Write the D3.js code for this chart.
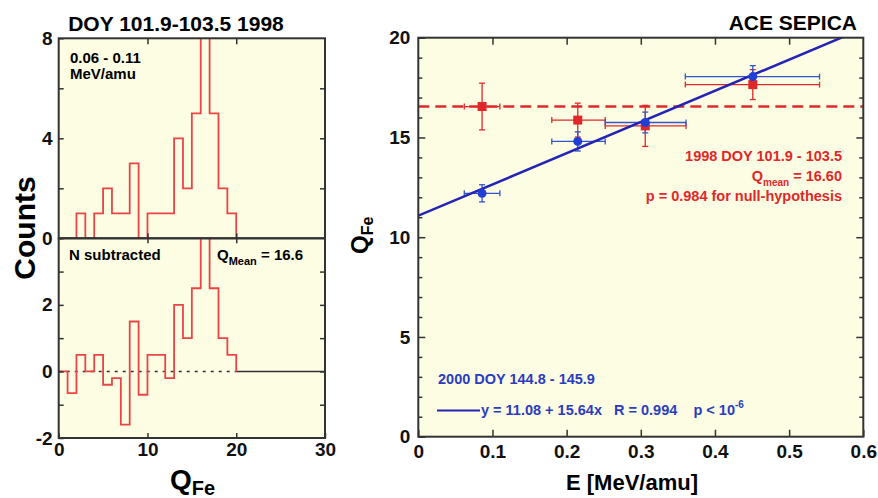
<!DOCTYPE html>
<html>
<head>
<meta charset="utf-8">
<script src="https://cdn.jsdelivr.net/npm/d3@7"></script>
<style>
  body { margin: 0; background: #fff; }
  svg text { font-family: "Liberation Sans", Arial, sans-serif; font-weight: bold; }
</style>
</head>
<body>
<div id="chart"></div>
<script>
// histogram bins (lower edge of each 1-unit bin in Q_Fe)
const binEdges = [0,1,2,3,4,5,6,7,8,9,10,11,12,13,14,15,16,17,18,19];
const countsTop = [0,0,1,0,1,2,1,1,3,0,1,1,1,4,2,5,10,5,2,1];
const countsSub = [0,-0.65,0.5,0,0.5,-0.4,-0.2,-1.6,1.5,-0.7,0.5,0.5,-0.2,2,1,2.5,6,2.5,1,0.5];
const histEnd = 20;

// Q_Fe vs energy
const energy = [0.086, 0.215, 0.306, 0.451];
const eLow   = [0.062, 0.180, 0.252, 0.360];
const eHigh  = [0.110, 0.252, 0.361, 0.541];
const q2000    = [12.2, 14.8, 15.75, 18.05];
const q2000Err = [0.43, 0.48, 0.52, 0.55];
const q1998    = [16.55, 15.87, 15.58, 17.65];
const q1998Err = [1.17, 0.85, 1.03, 0.75];
const fitIntercept = 11.08, fitSlope = 15.64;
const qMean = 16.55;

const W = 878, H = 498;
const BG = "#fdfde3", FRAME = "#333", RED = "#e0282a", HRED = "#e84545", BLUE = "#2a3cc0", LINEBLUE = "#2323b5";

const svg = d3.select("#chart").append("svg")
  .attr("width", W).attr("height", H);

// ---------- left panels ----------
const xh = d3.scaleLinear().domain([0, 30]).range([58.7, 325]);
const yTop = d3.scaleLinear().domain([0, 8]).range([238.3, 38.3]);
const yBot = d3.scaleLinear().domain([-2, 4]).range([438, 238.3]);

function panelFrame(g, x0, x1, y0, y1, id) {
  g.append("rect").attr("x", x0).attr("y", y0).attr("width", x1 - x0).attr("height", y1 - y0)
    .attr("fill", BG);
  svg.append("clipPath").attr("id", id).append("rect")
    .attr("x", x0).attr("y", y0).attr("width", x1 - x0).attr("height", y1 - y0);
}

const gL = svg.append("g");
panelFrame(gL, 58.7, 325, 38.3, 238.3, "clipTop");
panelFrame(gL, 58.7, 325, 238.3, 438, "clipBot");

// step paths
function stepData(vals) {
  const pts = binEdges.map((e, i) => [e, vals[i]]);
  pts.push([histEnd, 0]);
  return pts;
}
const stepTop = d3.line().x(d => xh(d[0])).y(d => yTop(d[1])).curve(d3.curveStepAfter);
const stepBot = d3.line().x(d => xh(d[0])).y(d => yBot(d[1])).curve(d3.curveStepAfter);

// zero line in bottom panel
gL.append("line").attr("x1", xh(0)).attr("x2", xh(histEnd)).attr("y1", yBot(0)).attr("y2", yBot(0))
  .attr("stroke", "#333").attr("stroke-width", 1.5).attr("stroke-dasharray", "3,5");
gL.append("line").attr("x1", xh(histEnd)).attr("x2", xh(30)).attr("y1", yBot(0)).attr("y2", yBot(0))
  .attr("stroke", "#333").attr("stroke-width", 1.5);

gL.append("path").datum(stepData(countsTop)).attr("d", stepTop)
  .attr("clip-path", "url(#clipTop)")
  .attr("fill", "none").attr("stroke", HRED).attr("stroke-width", 1.8);
gL.append("path").datum(stepData(countsSub)).attr("d", stepBot)
  .attr("clip-path", "url(#clipBot)")
  .attr("fill", "none").attr("stroke", HRED).attr("stroke-width", 1.8);

function styleAxis(sel, size) {
  sel.select(".domain").remove();
  sel.selectAll("line").attr("stroke", FRAME).attr("stroke-width", 1.5);
  sel.selectAll("text").attr("font-size", size).attr("fill", "#111");
}

// left y axes
gL.append("g").attr("transform", `translate(${xh(0)},0)`)
  .call(d3.axisLeft(yTop).tickValues([0,2,4,6,8]).tickSize(-5).tickPadding(6)
    .tickFormat(d => d % 4 === 0 ? d : ""))
  .call(s => styleAxis(s, 19));
gL.append("g").attr("transform", `translate(${xh(30)},0)`)
  .call(d3.axisRight(yTop).tickValues([2,4,6]).tickSize(-5).tickFormat(""))
  .call(s => styleAxis(s, 19));
gL.append("g").attr("transform", `translate(${xh(0)},0)`)
  .call(d3.axisLeft(yBot).tickValues([-2,-1,0,1,2,3]).tickSize(-5).tickPadding(6)
    .tickFormat(d => (d === -2 || d === 0 || d === 2) ? d : ""))
  .call(s => styleAxis(s, 19));
gL.append("g").attr("transform", `translate(${xh(30)},0)`)
  .call(d3.axisRight(yBot).tickValues([-1,0,1,2,3]).tickSize(-5).tickFormat(""))
  .call(s => styleAxis(s, 19));
// left x axes
gL.append("g").attr("transform", `translate(0,${yBot(-2)})`)
  .call(d3.axisBottom(xh).tickValues([0,10,20,30]).tickSize(-5).tickPadding(5))
  .call(s => styleAxis(s, 19));
[yTop(8), yTop(0)].forEach((yy, k) => {
  gL.append("g").attr("transform", `translate(0,${yy})`)
    .call((k === 0 ? d3.axisTop(xh) : d3.axisBottom(xh)).tickValues([10,20]).tickSize(k === 0 ? -6 : 5).tickFormat(""))
    .call(s => styleAxis(s, 19));
});
gL.append("g").attr("transform", `translate(0,${yTop(0)})`)
  .call(d3.axisBottom(xh).tickValues([10,20]).tickSize(-5).tickFormat(""))
  .call(s => styleAxis(s, 19));

// frames
[[yTop(8), yTop(0)], [yBot(4), yBot(-2)]].forEach(([a, b]) => {
  gL.append("rect").attr("x", xh(0)).attr("y", a).attr("width", xh(30) - xh(0)).attr("height", b - a)
    .attr("fill", "none").attr("stroke", FRAME).attr("stroke-width", 2);
});

// left texts
gL.append("text").attr("x", 176).attr("y", 31).attr("text-anchor", "middle")
  .attr("font-size", 21).text("DOY 101.9-103.5 1998");
gL.append("text").attr("x", 70).attr("y", 63).attr("font-size", 15).text("0.06 - 0.11");
gL.append("text").attr("x", 70).attr("y", 79).attr("font-size", 15).text("MeV/amu");
gL.append("text").attr("x", 69).attr("y", 260).attr("font-size", 15).text("N subtracted");
const qm = gL.append("text").attr("x", 217).attr("y", 260).attr("font-size", 15);
qm.append("tspan").text("Q");
qm.append("tspan").attr("font-size", 11).attr("dy", 5).text("Mean");
qm.append("tspan").attr("dy", -5).text(" = 16.6");

gL.append("text").attr("transform", "translate(35,228) rotate(-90)").attr("text-anchor", "middle")
  .attr("font-size", 30).text("Counts");
const qx = gL.append("text").attr("x", 170).attr("y", 489).attr("font-size", 28);
qx.append("tspan").text("Q");
qx.append("tspan").attr("font-size", 20).attr("dy", 6).text("Fe");

// ---------- right panel ----------
const xe = d3.scaleLinear().domain([0, 0.6]).range([418.3, 863.3]);
const yq = d3.scaleLinear().domain([0, 20]).range([436.7, 37.7]);
const gR = svg.append("g");
panelFrame(gR, xe(0), xe(0.6), yq(20), yq(0), "clipR");

// null-hypothesis mean line
gR.append("line").attr("clip-path", "url(#clipR)")
  .attr("x1", xe(0)).attr("x2", xe(0.6)).attr("y1", yq(qMean)).attr("y2", yq(qMean))
  .attr("stroke", RED).attr("stroke-width", 2.5).attr("stroke-dasharray", "11,6");

function errorBars(g, ys, errs, color) {
  const grp = g.append("g").attr("stroke", color).attr("stroke-width", 1.3);
  energy.forEach((e, i) => {
    const y = yq(ys[i]);
    grp.append("line").attr("x1", xe(eLow[i])).attr("x2", xe(eHigh[i])).attr("y1", y).attr("y2", y);
    grp.append("line").attr("x1", xe(eLow[i])).attr("x2", xe(eLow[i])).attr("y1", y - 3).attr("y2", y + 3);
    grp.append("line").attr("x1", xe(eHigh[i])).attr("x2", xe(eHigh[i])).attr("y1", y - 3).attr("y2", y + 3);
    const x = xe(e);
    grp.append("line").attr("x1", x).attr("x2", x).attr("y1", yq(ys[i] + errs[i])).attr("y2", yq(ys[i] - errs[i]));
    [ys[i] + errs[i], ys[i] - errs[i]].forEach(v => {
      grp.append("line").attr("x1", x - 3).attr("x2", x + 3).attr("y1", yq(v)).attr("y2", yq(v));
    });
  });
}
errorBars(gR, q1998, q1998Err, RED);
errorBars(gR, q2000, q2000Err, "#3355cc");

gR.selectAll(".sq").data(energy).join("rect")
  .attr("x", (d) => xe(d) - 4.5).attr("y", (d, i) => yq(q1998[i]) - 4.5)
  .attr("width", 9).attr("height", 9).attr("fill", RED);

// linear fit
const fitLine = d3.line().x(d => xe(d)).y(d => yq(fitIntercept + fitSlope * d));
gR.append("path").datum([0, 0.6]).attr("d", fitLine).attr("clip-path", "url(#clipR)")
  .attr("fill", "none").attr("stroke", LINEBLUE).attr("stroke-width", 2.5);

gR.selectAll(".dot").data(energy).join("circle")
  .attr("cx", d => xe(d)).attr("cy", (d, i) => yq(q2000[i])).attr("r", 4.5).attr("fill", "#1f3fd6");

// axes
const yMinor = [1,2,3,4,6,7,8,9,11,12,13,14,16,17,18,19];
gR.append("g").attr("transform", `translate(${xe(0)},0)`)
  .call(d3.axisLeft(yq).tickValues([0,5,10,15,20]).tickSize(-7).tickPadding(8))
  .call(s => styleAxis(s, 19));
gR.append("g").attr("transform", `translate(${xe(0)},0)`)
  .call(d3.axisLeft(yq).tickValues(yMinor).tickSize(-4).tickFormat(""))
  .call(s => styleAxis(s, 19));
gR.append("g").attr("transform", `translate(${xe(0.6)},0)`)
  .call(d3.axisRight(yq).tickValues([5,10,15]).tickSize(-7).tickFormat(""))
  .call(s => styleAxis(s, 19));
gR.append("g").attr("transform", `translate(${xe(0.6)},0)`)
  .call(d3.axisRight(yq).tickValues(yMinor).tickSize(-4).tickFormat(""))
  .call(s => styleAxis(s, 19));
gR.append("g").attr("transform", `translate(0,${yq(0)})`)
  .call(d3.axisBottom(xe).tickValues([0,0.1,0.2,0.3,0.4,0.5,0.6]).tickSize(-7).tickPadding(8)
    .tickFormat(d => d === 0 ? "0" : d3.format(".1f")(d)))
  .call(s => styleAxis(s, 19));
gR.append("g").attr("transform", `translate(0,${yq(20)})`)
  .call(d3.axisTop(xe).tickValues([0.1,0.2,0.3,0.4,0.5]).tickSize(-7).tickFormat(""))
  .call(s => styleAxis(s, 19));

gR.append("rect").attr("x", xe(0)).attr("y", yq(20)).attr("width", xe(0.6) - xe(0)).attr("height", yq(0) - yq(20))
  .attr("fill", "none").attr("stroke", FRAME).attr("stroke-width", 2);

// right texts
gR.append("text").attr("x", 857).attr("y", 30).attr("text-anchor", "end")
  .attr("font-size", 21).text("ACE SEPICA");
gR.append("text").attr("x", 842).attr("y", 161).attr("text-anchor", "end").attr("font-size", 14.5)
  .attr("fill", RED).text("1998 DOY 101.9 - 103.5");
const qmr = gR.append("text").attr("x", 842).attr("y", 181).attr("text-anchor", "end")
  .attr("font-size", 14.5).attr("fill", RED);
qmr.append("tspan").text("Q");
qmr.append("tspan").attr("font-size", 10).attr("dy", 5).text("mean");
qmr.append("tspan").attr("dy", -5).text(" = 16.60");
gR.append("text").attr("x", 842).attr("y", 201).attr("text-anchor", "end").attr("font-size", 14.5)
  .attr("fill", RED).text("p = 0.984 for null-hypothesis");

gR.append("text").attr("x", 438).attr("y", 384).attr("font-size", 14.5).attr("fill", BLUE)
  .text("2000 DOY 144.8 - 145.9");
gR.append("line").attr("x1", 437).attr("x2", 480).attr("y1", 410.5).attr("y2", 410.5)
  .attr("stroke", LINEBLUE).attr("stroke-width", 2);
const fitTxt = gR.append("text").attr("x", 481).attr("y", 415).attr("font-size", 14.5).attr("fill", BLUE)
  .attr("xml:space", "preserve");
fitTxt.append("tspan").text("y = 11.08 + 15.64x   R = 0.994    p < 10");
fitTxt.append("tspan").attr("font-size", 10).attr("dy", -7).text("-6");

const qy = gR.append("text").attr("transform", "translate(368,254) rotate(-90)").attr("font-size", 24);
qy.append("tspan").text("Q");
qy.append("tspan").attr("font-size", 16).attr("dy", 5).text("Fe");
gR.append("text").attr("x", 632).attr("y", 490).attr("text-anchor", "middle").attr("font-size", 22)
  .text("E [MeV/amu]");
</script>
</body>
</html>
